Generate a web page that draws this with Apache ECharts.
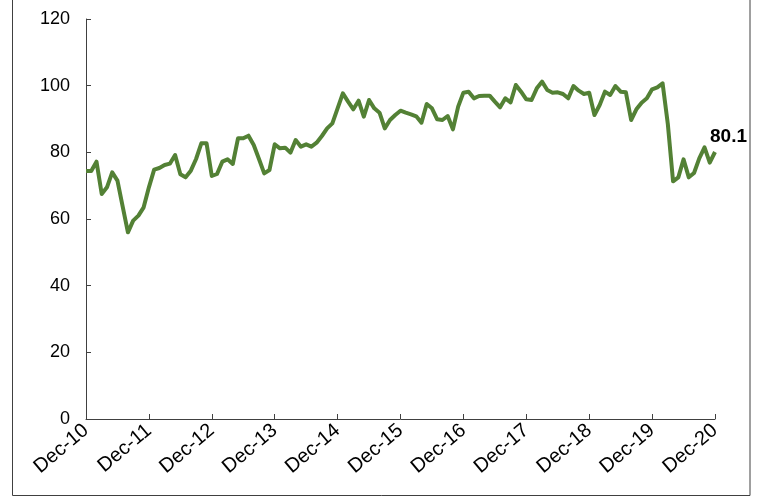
<!DOCTYPE html>
<html>
<head>
<meta charset="utf-8">
<script src="https://cdn.jsdelivr.net/npm/echarts@6/dist/echarts.min.js"></script>
<style>
html,body{margin:0;padding:0;background:#fff;}
#chart{width:760px;height:497px;}
</style>
</head>
<body>
<div id="chart"></div>
<script>
const monthNames = ['Jan','Feb','Mar','Apr','May','Jun','Jul','Aug','Sep','Oct','Nov','Dec'];
const startYear = 2010;
const endYear = 2020;
const yTicks = [0, 20, 40, 60, 80, 100, 120];
const values = [
  74.4, 74.4, 77.2, 67.5, 69.5, 74.0, 71.5, 63.7, 56.0, 59.5, 61.0, 63.5,
  69.5, 74.8, 75.3, 76.2, 76.6, 79.2, 73.4, 72.5, 74.5, 78.0, 82.7, 82.7,
  72.9, 73.5, 77.2, 77.9, 76.5, 84.2, 84.2, 85.0, 82.2, 78.0, 73.7, 74.7,
  82.4, 81.2, 81.4, 79.9, 83.7, 81.7, 82.4, 81.7, 82.9, 84.9, 87.2, 88.7,
  93.2, 97.7, 95.2, 92.9, 95.5, 90.7, 95.7, 93.2, 91.9, 87.2, 89.7, 91.2,
  92.5, 91.9, 91.4, 90.8, 88.9, 94.5, 93.2, 89.9, 89.7, 90.9, 86.9, 93.7,
  97.9, 98.2, 96.2, 96.9, 97.0, 97.0, 95.2, 93.5, 96.2, 95.0, 100.2, 98.2,
  95.9, 95.7, 99.2, 101.2, 98.7, 97.9, 98.0, 97.5, 96.2, 99.9, 98.5, 97.5,
  97.9, 91.2, 94.2, 98.2, 97.2, 99.9, 98.2, 98.0, 89.7, 92.9, 94.9, 96.2,
  98.9, 99.5, 100.7, 88.5, 71.3, 72.5, 77.9, 72.5, 73.8, 78.2, 81.5, 76.9,
  80.1
];

// categories Dec-10 ... Dec-20
const categories = [];
categories.push('Dec-' + String(startYear % 100).padStart(2, '0'));
for (let y = startYear + 1; y <= endYear; y++) {
  for (let m = 0; m < 12; m++) {
    categories.push(monthNames[m] + '-' + String(y % 100).padStart(2, '0'));
  }
}

const chart = echarts.init(document.getElementById('chart'), null, {renderer: 'canvas'});
chart.setOption({
  animation: false,
  backgroundColor: '#fff',
  graphic: [{
    type: 'rect', silent: true, z: -1,
    shape: {x: 12.5, y: -5, width: 737.5, height: 500.5},
    style: {fill: 'none', stroke: '#404040', lineWidth: 1}
  }],
  grid: {left: 86, right: 45, top: 19, bottom: 78, containLabel: false},
  xAxis: {
    type: 'category',
    data: categories,
    boundaryGap: false,
    axisLine: {lineStyle: {color: '#404040', width: 1}},
    axisTick: {inside: true, length: 5, interval: 11, lineStyle: {color: '#404040'}},
    axisLabel: {
      interval: 11, rotate: 40, margin: 9,
      fontFamily: 'Liberation Sans, Arial, sans-serif', fontSize: 20, color: '#000'
    },
    splitLine: {show: false}
  },
  yAxis: {
    type: 'value',
    min: yTicks[0], max: yTicks[yTicks.length - 1], interval: 20,
    axisLine: {show: true, lineStyle: {color: '#404040', width: 1}},
    axisTick: {show: true, inside: true, length: 5, lineStyle: {color: '#404040'}},
    axisLabel: {
      margin: 16, fontFamily: 'Liberation Sans, Arial, sans-serif', fontSize: 18, color: '#000'
    },
    splitLine: {show: false}
  },
  series: [{
    type: 'line',
    data: values,
    symbol: 'none',
    showSymbol: false,
    lineStyle: {color: '#538135', width: 4, join: 'round'},
    itemStyle: {color: '#538135'},
    endLabel: {
      show: true, align: 'left', offset: [-13, -15],
      formatter: (p) => p.value.toFixed(1),
      fontFamily: 'Liberation Sans, Arial, sans-serif',
      fontSize: 19, fontWeight: 'bold', color: '#000'
    },
    emphasis: {disabled: true}
  }]
});
</script>
</body>
</html>
